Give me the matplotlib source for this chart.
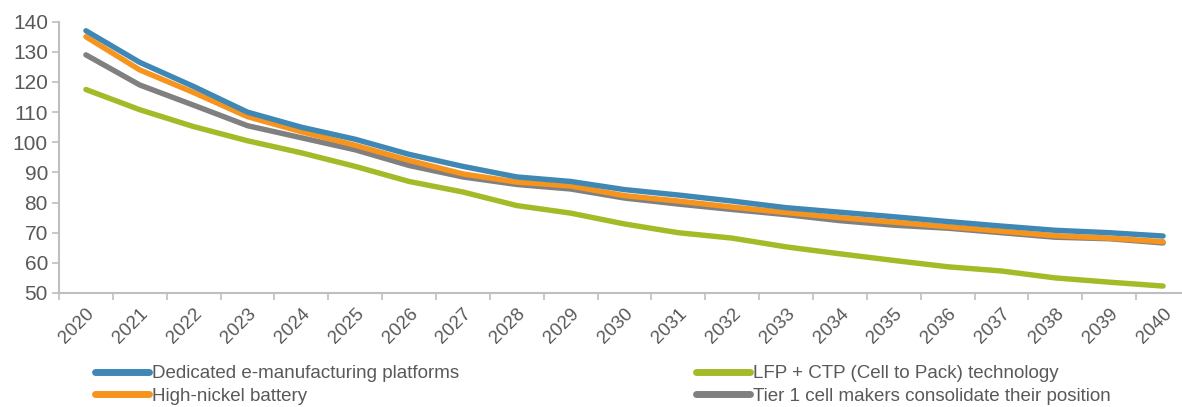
import matplotlib
matplotlib.use("Agg")
import matplotlib.pyplot as plt
from matplotlib import font_manager
import numpy as np

years = [str(y) for y in range(2020, 2041)]
dedicated = [137, 126.5, 118.5, 110, 105, 101, 96, 92, 88.5, 87, 84.3,
             82.5, 80.5, 78.3, 76.8, 75.3, 73.7, 72.2, 70.8, 70, 68.9]
high_nickel = [135, 124, 116.5, 108.5, 103.5, 99, 94, 89.5, 86.8, 85.5, 82.3,
               80.5, 78.5, 76.7, 75, 73.5, 72, 70.5, 69, 68.2, 67]
lfp_ctp = [117.5, 110.8, 105.2, 100.5, 96.5, 92, 87, 83.5, 79, 76.5, 72.9,
           70, 68.2, 65.3, 63, 60.8, 58.7, 57.3, 55, 53.6, 52.3]
tier1 = [129, 119, 112.3, 105.5, 101.5, 97.5, 92.3, 88.5, 86, 84.5, 81.5,
         79.5, 77.7, 76, 74, 72.5, 71.5, 70, 68.5, 68, 66.6]

labels = ["Dedicated e-manufacturing platforms", "High-nickel battery",
          "LFP + CTP (Cell to Pack) technology",
          "Tier 1 cell makers consolidate their position"]
colors = ["#3F88B5", "#F7941D", "#A5BA27", "#808080"]

names = {f.name for f in font_manager.fontManager.ttflist}
family = ["Liberation Sans Narrow", "DejaVu Sans"] if "Liberation Sans Narrow" in names \
    else ["Liberation Sans", "DejaVu Sans"]
plt.rcParams["font.family"] = family

fig = plt.figure(figsize=(11.82, 4.07), dpi=100)
ax = fig.add_axes([59 / 1182, 114 / 407, 1131 / 1182, (293 - 21.7) / 407])

x = np.arange(len(years))
series = [dedicated, high_nickel, lfp_ctp, tier1]
handles = {}
# draw order: green, grey, orange, blue on top
for i in [2, 3, 1, 0]:
    h, = ax.plot(x, series[i], color=colors[i], lw=3.9, solid_capstyle="round",
                 solid_joinstyle="round", label=labels[i])
    handles[i] = h

ax.set_xlim(-0.5, len(years) - 0.5)
ax.set_ylim(50, 140)
ax.set_yticks(range(50, 141, 10))
ax.set_xticks(x)
ax.set_xticklabels(years, rotation=45, ha="right", va="top", rotation_mode="anchor")
ax.set_xticks(np.arange(-0.5, len(years), 1), minor=True)
ax.tick_params(axis="x", which="major", length=0, pad=9, labelsize=13.5, labelcolor="#595959")
ax.tick_params(axis="x", which="minor", length=5, width=1.2, color="#BFBFBF")
ax.tick_params(axis="y", length=5, width=1.2, color="#BFBFBF", labelsize=15,
               labelcolor="#595959", pad=3)

for s in ["top", "right"]:
    ax.spines[s].set_visible(False)
for s in ["left", "bottom"]:
    ax.spines[s].set_color("#BFBFBF")
    ax.spines[s].set_linewidth(1.5)

leg_kw = dict(frameon=False, fontsize=13.5, handlelength=2.9, handletextpad=0.15,
              labelspacing=0.3, labelcolor="#595959", borderaxespad=0, borderpad=0)
fig.legend([handles[0], handles[1]], labels[:2], loc="upper left",
           bbox_to_anchor=(95 / 1182, 1 - 365 / 407), **leg_kw)
fig.legend([handles[2], handles[3]], labels[2:], loc="upper left",
           bbox_to_anchor=(696 / 1182, 1 - 365 / 407), **leg_kw)
for leg in fig.legends:
    for ln in leg.get_lines():
        ln.set_linewidth(5)

fig.savefig("out.png", dpi=100)
